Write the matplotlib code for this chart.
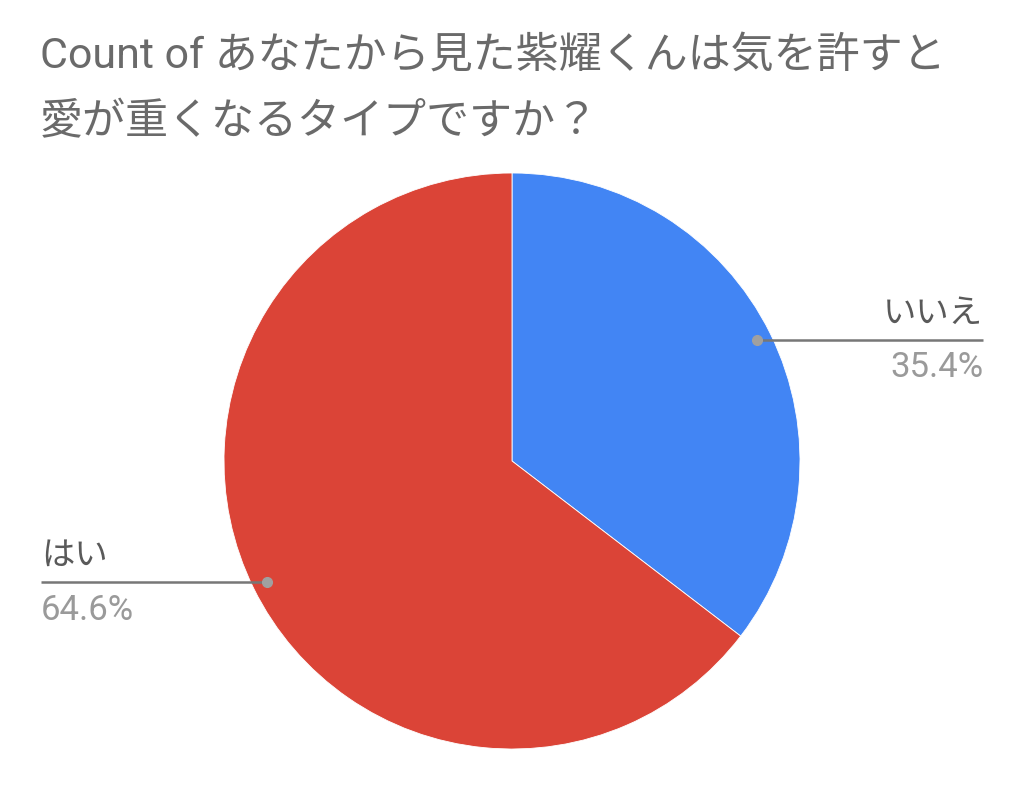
import matplotlib
matplotlib.use("Agg")
import matplotlib.pyplot as plt
import numpy as np

title_lines = ["Count of あなたから見た紫耀くんは気を許すと", "愛が重くなるタイプですか？"]
labels = ["いいえ", "はい"]
values = [35.4, 64.6]
colors = ["#4285F4", "#DB4437"]

plt.rcParams['font.family'] = ['Roboto', 'Noto Sans CJK JP', 'DejaVu Sans']

W, H = 1024, 786
fig = plt.figure(figsize=(W/100, H/100), dpi=100)

cx, cy, r = 512, 461, 288
ax = fig.add_axes([(cx - r)/W, (H - cy - r)/H, 2*r/W, 2*r/H])
wedges, _ = ax.pie(values, colors=colors, startangle=90, counterclock=False,
                   radius=1.0, wedgeprops=dict(edgecolor='white', linewidth=0.6))
ax.set_xlim(-1, 1)
ax.set_ylim(-1, 1)
ax.set_aspect('equal')
ax.axis('off')

# title
fig.text(40/W, 1 - 68/H, title_lines[0], fontsize=31, color='#6a6a6a', ha='left', va='baseline')
fig.text(40/W, 1 - 134/H, title_lines[1], fontsize=31, color='#6a6a6a', ha='left', va='baseline')

# leader labels
total = sum(values)
start = 90.0
for lab, v, w in zip(labels, values, wedges):
    mid = np.deg2rad(start - 360*v/total/2)
    start -= 360*v/total
    dx, dy = 0.95*np.cos(mid), 0.95*np.sin(mid)
    side = 1 if dx > 0 else -1
    xe = 1.636*side
    ax.plot([dx, xe], [dy, dy], color='#777777', lw=1.8, clip_on=False, solid_capstyle='butt')
    ax.plot([dx], [dy], 'o', color='#a0a0a0', ms=7, clip_on=False)
    ha = 'right' if side > 0 else 'left'
    ax.text(xe, dy + 0.035, lab, fontsize=24, color='#5a5a5a', ha=ha, va='bottom', clip_on=False)
    ax.text(xe, dy - 0.04, f"{v:.1f}%", fontsize=25, color='#9a9a9a', ha=ha, va='top', clip_on=False)

fig.savefig("out.png", dpi=100, facecolor='white')
